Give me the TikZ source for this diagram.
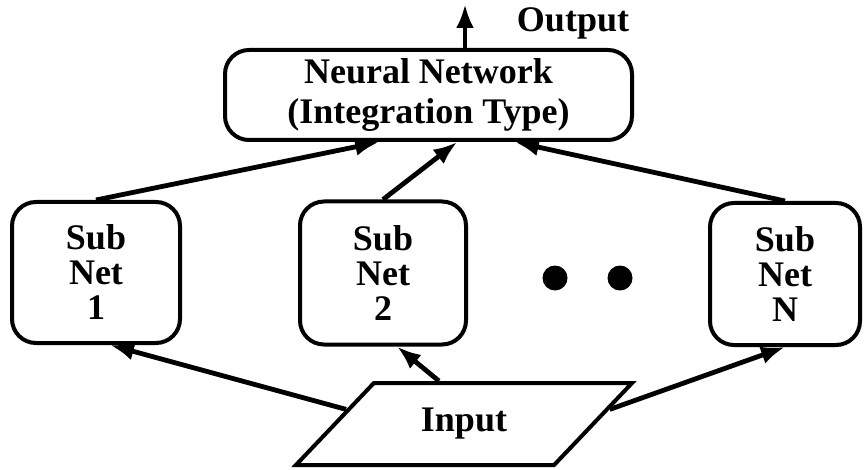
\documentclass[tikz,border=0pt]{standalone}
\usepackage{fontspec}
\setmainfont{Liberation Serif}
\usetikzlibrary{arrows.meta, calc, shapes.geometric}

\begin{document}
\begin{tikzpicture}[x=0.5pt,y=-0.5pt,
  box/.style={draw, line width=2pt, rounded corners=12pt, align=center, inner sep=0pt,
    font=\bfseries\fontsize{18}{17.5}\selectfont},
  dot/.style={circle, fill, inner sep=0pt, minimum size=12.5pt},
  link/.style={-{Latex[length=12pt,width=9pt]}, line width=2.4pt}]
  \useasboundingbox (0,0) rectangle (866,470);

  % integrating network on top
  \node[box, minimum width=203.5pt, minimum height=45pt,
    font=\bfseries\fontsize{18}{20}\selectfont] (nn) at (428.5,95)
    {Neural Network\\(Integration Type)};
  \coordinate (out) at (465,4);
  \node[font=\bfseries\fontsize{18}{20}\selectfont] (outtxt) at (573,23) {Output};

  % sub networks
  \node[box, minimum width=84pt, minimum height=70.5pt] (sub1) at (96,272.5) {Sub\\Net\\1};
  \node[box, minimum width=83pt, minimum height=71.5pt] (sub2) at (383,273) {Sub\\Net\\2};
  \node[box, minimum width=75pt, minimum height=71pt] (subN) at (785,274) {Sub\\Net\\N};
  \node[dot] (dot1) at (555,278) {};
  \node[dot] (dot2) at (620,278) {};

  % input
  \node[draw, line width=2pt, trapezium, trapezium left angle=40, trapezium right angle=140,
    trapezium stretches=true, minimum width=169pt, minimum height=41pt, inner sep=0pt,
    font=\bfseries\fontsize{18}{20}\selectfont] (input) at (464,424) {Input};

  % subnets to integration net
  \draw[link] (sub1.north) -- ($(nn.south west)!0.38!(nn.south east)$);
  \draw[link] (sub2.north) -- ($(nn.south west)!0.57!(nn.south east)$);
  \draw[link] (subN.north) -- ($(nn.south west)!0.71!(nn.south east)$);
  \draw[link] (nn.north -| out) -- (out);

  % input to subnets
  \draw[link] ($(input.top left corner)!0.33!(input.bottom left corner)$) -- ($(sub1.south)+(14,0)$);
  \draw[link] ($(input.top left corner)!0.25!(input.top right corner)$) -- ($(sub2.south)+(14,0)$);
  \draw[link] ($(input.top right corner)!0.33!(input.bottom right corner)$) -- (subN.south);
\end{tikzpicture}
\end{document}
